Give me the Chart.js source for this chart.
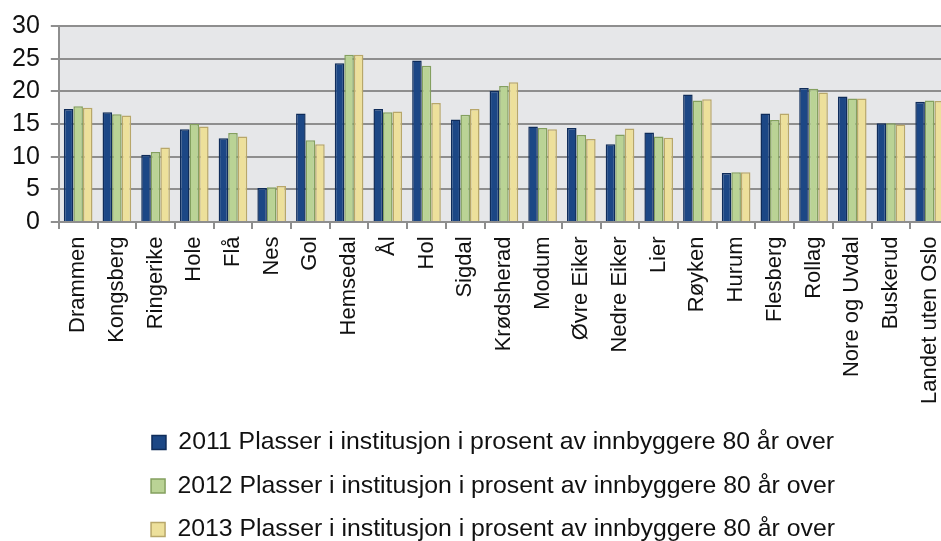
<!DOCTYPE html>
<html>
<head>
<meta charset="utf-8">
<script src="https://cdn.jsdelivr.net/npm/chart.js@4"></script>
<style>
  html, body { margin: 0; padding: 0; background: #fff; overflow: hidden; }
  #wrap { position: absolute; left: 0; top: 0; width: 982px; height: 552px; }
</style>
</head>
<body>
<div id="wrap"><canvas id="myChart"></canvas></div>
<script>
const kommuner = ['Drammen', 'Kongsberg', 'Ringerike', 'Hole', 'Flå', 'Nes', 'Gol', 'Hemsedal', 'Ål', 'Hol',
    'Sigdal', 'Krødsherad', 'Modum', 'Øvre Eiker', 'Nedre Eiker', 'Lier', 'Røyken', 'Hurum', 'Flesberg',
    'Rollag', 'Nore og Uvdal', 'Buskerud', 'Landet uten Oslo'];

const plasser2011 = [17.3, 16.8, 10.3, 14.2, 12.8, 5.2, 16.6, 24.3, 17.3, 24.7,
    15.7, 20.1, 14.6, 14.4, 11.9, 13.7, 19.5, 7.5, 16.6, 20.5, 19.2, 15.1, 18.4];
const plasser2012 = [17.7, 16.5, 10.7, 15.0, 13.6, 5.3, 12.5, 25.6, 16.8, 23.9,
    16.4, 20.8, 14.4, 13.3, 13.4, 13.1, 18.6, 7.6, 15.6, 20.4, 18.9, 15.1, 18.6];
const plasser2013 = [17.5, 16.3, 11.4, 14.6, 13.1, 5.5, 11.9, 25.6, 16.9, 18.2,
    17.3, 21.4, 14.2, 12.7, 14.3, 12.9, 18.8, 7.6, 16.6, 19.8, 18.9, 14.9, 18.5];

const serieNavn = [
    '2011 Plasser i institusjon i prosent av innbyggere 80 år over',
    '2012 Plasser i institusjon i prosent av innbyggere 80 år over',
    '2013 Plasser i institusjon i prosent av innbyggere 80 år over'
];

const yTicks = [0, 5, 10, 15, 20, 25, 30];

const fontFamily = '"Liberation Sans", Arial, sans-serif';
const gridColor = '#8e8e8e';

// grå bakgrunn i plottområdet
const plotBackground = {
    id: 'plotBackground',
    beforeDraw(chart) {
        const { ctx, chartArea } = chart;
        ctx.save();
        ctx.fillStyle = '#e6e7e9';
        ctx.fillRect(chartArea.left, chartArea.top, chartArea.right - chartArea.left, chartArea.bottom - chartArea.top);
        ctx.restore();
    }
};

// flytt forklaringen litt mot høyre
const legendShift = {
    id: 'legendShift',
    afterLayout(chart) {
        chart.legend.left += 18;
        chart.legend.right += 18;
    }
};

const ctx = document.getElementById('myChart').getContext('2d');
const myChart = new Chart(ctx, {
    type: 'bar',
    data: {
        labels: kommuner,
        datasets: [{
            label: serieNavn[0],
            data: plasser2011,
            backgroundColor: '#1c4785',
            borderColor: '#0f2c5a',
            borderWidth: 1.5
        }, {
            label: serieNavn[1],
            data: plasser2012,
            backgroundColor: '#bad395',
            borderColor: '#84a05f',
            borderWidth: 1.5
        }, {
            label: serieNavn[2],
            data: plasser2013,
            backgroundColor: '#ede09b',
            borderColor: '#b8a76a',
            borderWidth: 1.5
        }]
    },
    options: {
        responsive: true,
        maintainAspectRatio: false,
        animation: false,
        layout: {
            padding: { top: 25, left: 1, right: 33, bottom: 0 }
        },
        datasets: {
            bar: {
                categoryPercentage: 0.74,
                barPercentage: 1.0
            }
        },
        scales: {
            x: {
                grid: {
                    drawOnChartArea: false,
                    color: gridColor,
                    lineWidth: 2,
                    tickLength: 7,
                    offset: true
                },
                border: { color: gridColor, width: 2 },
                ticks: {
                    autoSkip: false,
                    minRotation: 90,
                    maxRotation: 90,
                    padding: 7.5,
                    color: '#111',
                    font: { family: fontFamily, size: 22 }
                }
            },
            y: {
                min: 0,
                max: 30,
                afterBuildTicks: (axis) => {
                    axis.ticks = yTicks.map(v => ({ value: v }));
                },
                grid: {
                    color: gridColor,
                    lineWidth: 2,
                    tickLength: 8
                },
                border: { color: gridColor, width: 2 },
                ticks: {
                    autoSkip: false,
                    padding: 11,
                    color: '#111',
                    font: { family: fontFamily, size: 25 }
                }
            }
        },
        plugins: {
            tooltip: { enabled: false },
            legend: {
                position: 'bottom',
                labels: {
                    boxWidth: 14,
                    boxHeight: 14,
                    padding: 18.7,
                    color: '#111',
                    font: { family: fontFamily, size: 24.8 }
                }
            }
        }
    },
    plugins: [plotBackground, legendShift]
});
</script>
</body>
</html>
